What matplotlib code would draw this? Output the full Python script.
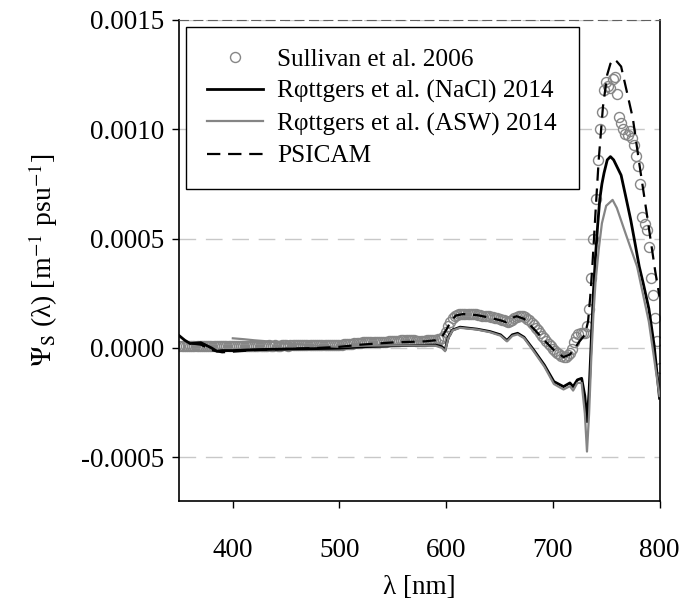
import matplotlib
matplotlib.use("Agg")
import matplotlib.pyplot as plt
import numpy as np

plt.rcParams['font.family'] = ['Liberation Serif', 'DejaVu Serif']
plt.rcParams['mathtext.fontset'] = 'stix'
plt.rcParams['axes.unicode_minus'] = False

# Sullivan et al. 2006, every 2 nm from 350 to 800 (units of 1e-4 m-1 psu-1)
sul_wl = np.arange(350, 801, 2)
sul_val = [
    0.10, 0.10, 0.11, 0.10, 0.10, 0.09, 0.10, 0.10, 0.11, 0.10,
    0.10, 0.09, 0.10, 0.10, 0.10, 0.11, 0.10, 0.10, 0.09, 0.10,
    0.10, 0.10, 0.10, 0.11, 0.10,
    0.10, 0.11, 0.10, 0.10, 0.11, 0.10, 0.10, 0.11, 0.11, 0.10,
    0.11, 0.10, 0.11, 0.11, 0.10, 0.11, 0.11, 0.12, 0.11, 0.11,
    0.12, 0.11, 0.11, 0.12, 0.12,
    0.12, 0.11, 0.12, 0.12, 0.12, 0.13, 0.12, 0.12, 0.13, 0.12,
    0.13, 0.13, 0.12, 0.13, 0.13, 0.14, 0.13, 0.13, 0.14, 0.14,
    0.14, 0.13, 0.14, 0.15, 0.14,
    0.15, 0.15, 0.16, 0.17, 0.18, 0.19, 0.20, 0.21, 0.22, 0.23,
    0.24, 0.25, 0.25, 0.26, 0.26, 0.27, 0.27, 0.28, 0.28, 0.28,
    0.29, 0.29, 0.29, 0.30, 0.30,
    0.30, 0.31, 0.32, 0.33, 0.34, 0.35, 0.36, 0.36, 0.36, 0.35,
    0.34, 0.33, 0.33, 0.32, 0.32, 0.33, 0.34, 0.35, 0.36, 0.37,
    0.38, 0.40, 0.43, 0.47, 0.55,
    0.75, 1.00, 1.20, 1.35, 1.45, 1.50, 1.53, 1.55, 1.56, 1.56,
    1.56, 1.55, 1.55, 1.54, 1.53, 1.52, 1.50, 1.48, 1.47, 1.46,
    1.44, 1.42, 1.40, 1.38, 1.35,
    1.32, 1.30, 1.26, 1.22, 1.20, 1.22, 1.30, 1.38, 1.43, 1.46,
    1.46, 1.44, 1.40, 1.34, 1.26, 1.16, 1.04, 0.92, 0.80, 0.68,
    0.56, 0.44, 0.32, 0.20, 0.08,
    -0.05, -0.14, -0.22, -0.30, -0.36, -0.40, -0.40, -0.34, -0.24, -0.05,
    0.25, 0.50, 0.62, 0.66, 0.68, 0.70, 1.00, 1.80, 3.20, 5.00,
    6.80, 8.60, 10.00, 10.80, 11.80,
    12.15, 12.00, 11.90, 12.30, 12.40, 11.60, 10.55, 10.30, 10.00, 9.80,
    9.75, 9.90, 9.60, 9.30, 8.80, 8.30, 7.50, 6.00, 5.65, 5.40,
    4.60, 3.20, 2.40, 1.35, 0.30,
    -0.90,
]

# Rottgers et al. (NaCl) 2014
nacl_wl = [350, 355, 360, 370, 380, 385, 390, 400, 420, 450, 480, 500, 520, 550,
           580, 590, 596, 599, 602, 606, 613, 629, 641, 651, 657, 662, 667, 673,
           682, 692, 701, 710, 716, 719, 723, 727, 730, 732, 734, 736, 738, 740,
           742, 744, 746, 748, 751, 754, 757, 760, 764, 768, 773, 777, 781, 785,
           790, 795, 800]
nacl_val = [0.55, 0.35, 0.20, 0.24, 0.00, -0.15, -0.12, -0.12, -0.08, -0.05, -0.03,
            -0.01, 0.05, 0.10, 0.12, 0.13, 0.06, -0.10, 0.50, 0.82, 0.95, 0.86,
            0.75, 0.60, 0.34, 0.60, 0.67, 0.49, -0.09, -0.78, -1.54, -1.77, -1.60,
            -1.77, -1.46, -1.39, -2.20, -3.37, -2.00, 0.30, 2.50, 4.20, 5.60, 6.80,
            7.50, 8.00, 8.60, 8.75, 8.60, 8.30, 7.90, 7.00, 5.86, 4.80, 3.72, 2.90,
            1.80, 0.10, -2.30]

# Rottgers et al. (ASW) 2014
asw_wl = [400, 410, 420, 435, 450, 480, 500, 520, 550, 590, 596, 599, 602, 606,
          613, 629, 641, 651, 657, 662, 667, 673, 682, 692, 701, 710, 716, 719,
          723, 727, 730, 732, 734, 736, 738, 740, 743, 746, 750, 756, 760, 768,
          779, 790, 800]
asw_val = [0.44, 0.40, 0.35, 0.29, 0.20, 0.10, 0.05, 0.10, 0.12, 0.10, 0.00, -0.15,
           0.45, 0.80, 0.92, 0.84, 0.72, 0.56, 0.30, 0.55, 0.62, 0.45, -0.15,
           -0.85, -1.65, -1.90, -1.75, -1.95, -1.60, -1.60, -3.00, -4.74, -3.00,
           -0.50, 1.50, 3.00, 4.50, 5.70, 6.50, 6.77, 6.40, 5.26, 3.72, 1.20, -2.20]

# PSICAM
psi_wl = [362, 370, 380, 390, 400, 420, 450, 480, 500, 520, 550, 580, 590, 596,
          601, 604, 609, 616, 629, 641, 651, 656, 660, 666, 673, 682, 692, 701,
          710, 716, 720, 725, 730, 733, 735, 737, 740, 743, 747, 751, 754, 757,
          760, 764, 769, 775, 781, 788, 796, 800]
psi_val = [0.20, 0.15, -0.10, -0.20, -0.17, -0.10, -0.05, 0.00, 0.05, 0.15, 0.25,
           0.30, 0.35, 0.50, 0.90, 1.20, 1.48, 1.55, 1.50, 1.38, 1.26, 1.18, 1.34,
           1.45, 1.33, 0.88, 0.35, -0.10, -0.42, -0.30, -0.05, 0.30, 0.60, 1.20,
           2.30, 3.70, 6.20, 8.60, 11.04, 12.50, 13.00, 13.21, 13.10, 12.87, 11.80,
           10.50, 8.45, 6.16, 3.50, 2.35]

scale = 1e-4
yticks = [-0.0005, 0.0000, 0.0005, 0.0010, 0.0015]
xticks = [400, 500, 600, 700, 800]

fig = plt.figure(figsize=(6.84, 6.12), dpi=100)
ax = fig.add_axes([0.2624, 0.1814, 0.7018, 0.7860])

ax.plot(sul_wl, np.array(sul_val) * scale, 'o', ms=7.2, mfc='none', mec='#868686',
        mew=1.0, label='Sullivan et al. 2006', zorder=2)
ax.plot(nacl_wl, np.array(nacl_val) * scale, color='black', lw=2.0,
        label='Rφttgers et al. (NaCl) 2014', zorder=3)
ax.plot(asw_wl, np.array(asw_val) * scale, color='#858585', lw=1.6,
        label='Rφttgers et al. (ASW) 2014', zorder=3)
ax.plot(psi_wl, np.array(psi_val) * scale, color='black', lw=1.6,
        dashes=(6, 3.5), label='PSICAM', zorder=4)

ax.set_xlim(350, 800)
ax.set_ylim(-0.0007, 0.0015)
ax.set_xticks(xticks)
ax.set_yticks(yticks)
ax.set_yticklabels(['%.4f' % v for v in yticks])
ax.tick_params(labelsize=19.5, direction='out', length=5, width=1.0, right=False, top=False)
ax.tick_params(axis='x', pad=22)
ax.tick_params(axis='y', pad=6)

ax.yaxis.grid(True, color='#c8c8c8', lw=1.0, dashes=(12, 7))
ax.set_axisbelow(True)
ax.spines['top'].set_linestyle((0, (8, 5)))
ax.spines['top'].set_color('#606060')
for s in ['left', 'bottom', 'right']:
    ax.spines[s].set_linewidth(1.2)

ax.set_xlabel('λ [nm]', fontsize=19.5, labelpad=8)
ax.set_ylabel(r'$\Psi_{\mathrm{S}}$ (λ) [m$^{\mathrm{-1}}$ psu$^{\mathrm{-1}}$]',
              fontsize=20, labelpad=15)

leg = ax.legend(loc='upper left', bbox_to_anchor=(0.0135, 0.9854), borderaxespad=0,
                fontsize=18.2, frameon=True, fancybox=False, framealpha=1,
                edgecolor='black', handlelength=2.2, labelspacing=0.36,
                borderpad=0.85, handletextpad=0.57)
leg.get_frame().set_linewidth(1.0)

plt.savefig('out.png', dpi=100)
